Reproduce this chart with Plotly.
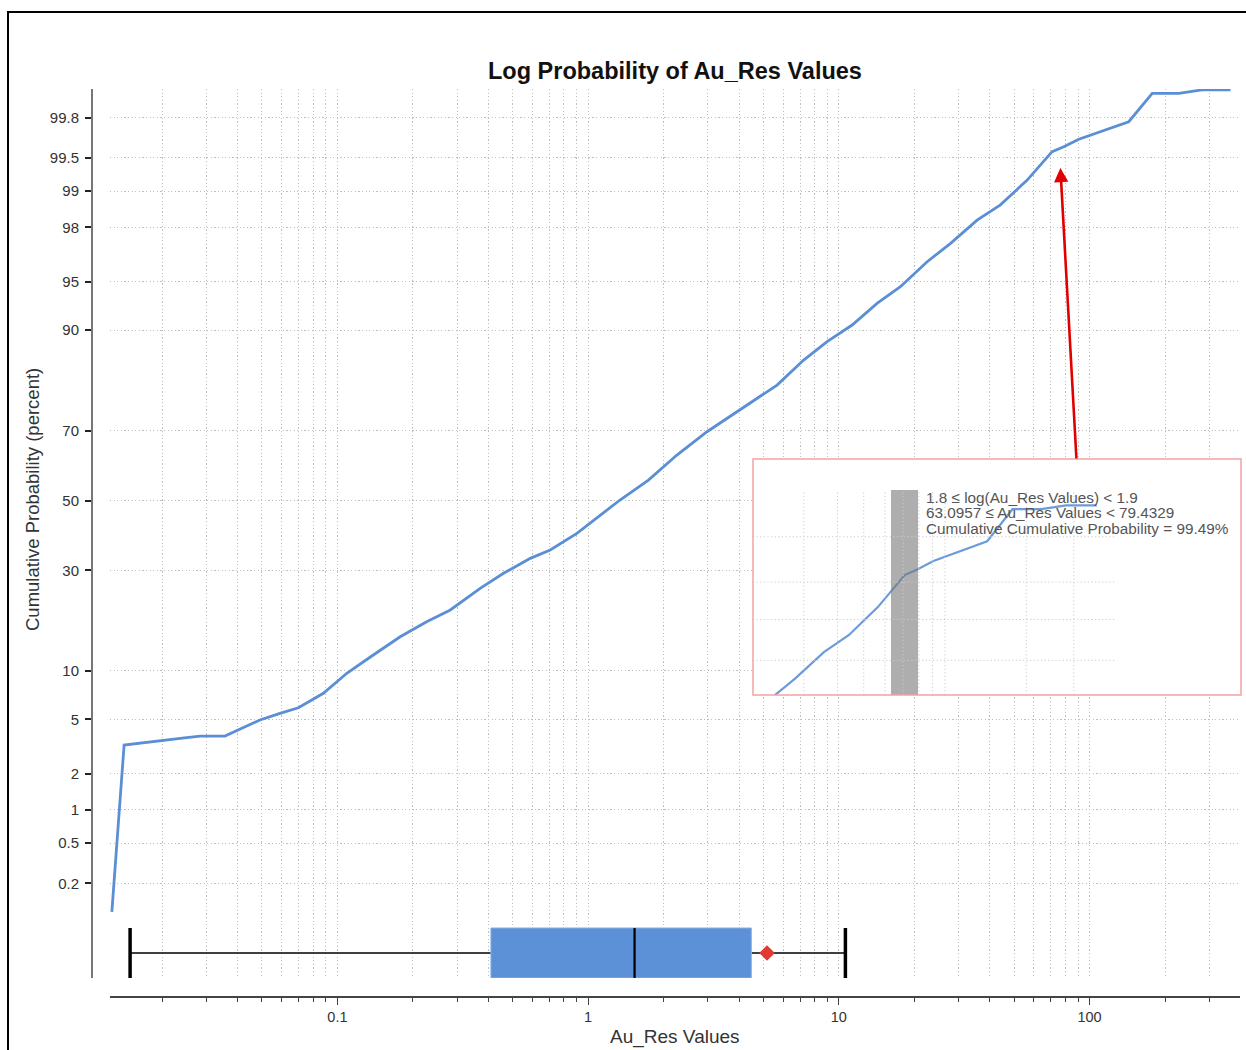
import math
from statistics import NormalDist
import plotly.graph_objects as go

W, H = 1246, 1050

# Cumulative distribution of Au_Res (value, cumulative percent)
AU_VALUES = [0.0126, 0.0141, 0.0236, 0.0283, 0.0356, 0.0491, 0.0590, 0.0699, 0.0879, 0.109,
             0.139, 0.178, 0.227, 0.282, 0.371, 0.460, 0.588, 0.706, 0.902, 1.34,
             1.74, 2.26, 2.98, 3.93, 5.67, 7.24, 8.98, 11.3, 14.2, 17.6,
             22.5, 27.9, 35.6, 44.1, 56.4, 70.9, 78.9, 90.6, 110.5, 143.3,
             177.8, 227.0, 281.0, 365.0]
CUM_PCT = [0.099, 3.30, 3.69, 3.83, 3.83, 4.95, 5.48, 5.96, 7.36, 9.70,
           12.27, 15.29, 18.11, 20.53, 25.46, 29.22, 33.18, 35.49, 40.26, 50.15,
           56.12, 63.38, 69.74, 74.79, 80.73, 85.45, 88.38, 90.65, 93.09, 94.60,
           96.37, 97.34, 98.25, 98.69, 99.20, 99.564, 99.609, 99.670, 99.722, 99.780,
           99.890, 99.890, 99.899, 99.899]

# Probability axis labels (percent)
PROB_TICKS = [0.2, 0.5, 1, 2, 5, 10, 30, 50, 70, 90, 95, 98, 99, 99.5, 99.8]
X_MAJOR = [0.1, 1, 10, 100]
X_MAJOR_TEXT = ["0.1", "1", "10", "100"]

# Box plot summary
BOX_LOWER = 0.0149
BOX_Q1 = 0.4095
BOX_MEDIAN = 1.532
BOX_Q3 = 4.476
BOX_MEAN = 5.17
BOX_UPPER = 10.62

# Highlighted bin in the detail panel
BIN_LO = 63.0957
BIN_HI = 79.4329
BIN_TEXT = [
    "1.8 \u2264 log(Au_Res Values) < 1.9",
    "63.0957 \u2264 Au_Res Values < 79.4329",
    "Cumulative Cumulative Probability = 99.49%",
]
INSET_GRID_VALUES = [30, 40, 50, 60, 70, 80, 90, 100, 200, 300]
INSET_GRID_PCT = [98, 99, 99.5, 99.8]

# Arrow from the detail panel to the curve
ARROW_TIP = (76.5, 99.38)
ARROW_TAIL = (88.7, 61.96)

ND = NormalDist()


def z(p):
    return ND.inv_cdf(p / 100.0)


def px(x):
    return x / W


def py(y):
    return 1 - y / H


LINE_BLUE = "#5b8fd5"
GRID = "#bfbfbf"
GRID_DASH = "1.2px,2.4px"
FONT = "Liberation Sans, Arial, sans-serif"

fig = go.Figure()

# ---- main probability curve
fig.add_trace(go.Scatter(
    x=AU_VALUES, y=[z(p) for p in CUM_PCT], mode="lines",
    line=dict(color=LINE_BLUE, width=2.8), xaxis="x", yaxis="y",
))

# ---- box plot along the bottom of the main panel
BOX_C, BOX_H = -3.402, 0.188
fig.add_trace(go.Scatter(
    x=[BOX_LOWER, BOX_Q1, None, BOX_Q3, BOX_UPPER],
    y=[BOX_C, BOX_C, None, BOX_C, BOX_C], mode="lines",
    line=dict(color="black", width=1.6), xaxis="x", yaxis="y",
))
fig.add_trace(go.Scatter(
    x=[BOX_LOWER, BOX_LOWER, None, BOX_UPPER, BOX_UPPER],
    y=[BOX_C - BOX_H, BOX_C + BOX_H, None, BOX_C - BOX_H, BOX_C + BOX_H], mode="lines",
    line=dict(color="black", width=3.5), xaxis="x", yaxis="y",
))
fig.add_trace(go.Scatter(
    x=[BOX_Q1, BOX_Q3, BOX_Q3, BOX_Q1, BOX_Q1],
    y=[BOX_C - BOX_H, BOX_C - BOX_H, BOX_C + BOX_H, BOX_C + BOX_H, BOX_C - BOX_H],
    mode="lines", fill="toself", fillcolor="#5d91d7",
    line=dict(color="#8ab1e6", width=1), xaxis="x", yaxis="y",
))
fig.add_trace(go.Scatter(
    x=[BOX_MEDIAN, BOX_MEDIAN], y=[BOX_C - BOX_H, BOX_C + BOX_H], mode="lines",
    line=dict(color="black", width=2.2), xaxis="x", yaxis="y",
))
fig.add_trace(go.Scatter(
    x=[BOX_MEAN], y=[BOX_C], mode="markers",
    marker=dict(symbol="diamond", size=12, color="#e03a32"), xaxis="x", yaxis="y",
))

# ---- detail panel (inset)
IZ_BOT, IZ_TOP, IZ_BAR_TOP = 1.8227, 3.3967, 3.1893
IX_LEFT, IX_GRID_END = 10 ** 1.2889, 426.0
fig.add_trace(go.Scatter(
    x=AU_VALUES, y=[z(p) for p in CUM_PCT], mode="lines",
    line=dict(color="#6d9bd8", width=2.2), xaxis="x2", yaxis="y2",
))
fig.add_trace(go.Scatter(
    x=[BIN_LO, BIN_HI, BIN_HI, BIN_LO, BIN_LO],
    y=[IZ_BOT, IZ_BOT, IZ_BAR_TOP, IZ_BAR_TOP, IZ_BOT],
    mode="lines", fill="toself", fillcolor="rgba(120,120,120,0.6)",
    line=dict(width=0), xaxis="x2", yaxis="y2",
))
vx, vy = [], []
for v in INSET_GRID_VALUES:
    vx += [v, v, None]
    vy += [IZ_BOT, IZ_BAR_TOP, None]
hx, hy = [], []
for p in INSET_GRID_PCT:
    hx += [IX_LEFT, IX_GRID_END, None]
    hy += [z(p), z(p), None]
fig.add_trace(go.Scatter(
    x=vx + hx, y=vy + hy, mode="lines",
    line=dict(color="#cccccc", width=1, dash=GRID_DASH), xaxis="x2", yaxis="y2",
))

x_minor = [d * k for d in (0.01, 0.1, 1, 10, 100) for k in range(2, 10)
           if 0.0125 <= d * k <= 390]

fig.update_layout(
    width=W, height=H,
    margin=dict(l=0, r=0, t=0, b=0),
    paper_bgcolor="white", plot_bgcolor="white",
    showlegend=False,
    font=dict(family=FONT, color="#333"),
    xaxis=dict(
        type="log", domain=[px(110), px(1240)], range=[-1.907, 2.600],
        anchor="free", position=py(997),
        showline=True, linecolor="#444", linewidth=2,
        ticks="outside", ticklen=7, tickwidth=1.2, tickcolor="#444",
        tickmode="array", tickvals=X_MAJOR, ticktext=X_MAJOR_TEXT,
        tickfont=dict(size=14.5, color="#333"),
        showgrid=True, gridcolor=GRID, griddash=GRID_DASH, gridwidth=1,
        minor=dict(tickmode="array", tickvals=x_minor, ticks="outside", ticklen=4,
                   tickcolor="#444", showgrid=True, gridcolor=GRID, griddash=GRID_DASH,
                   gridwidth=1),
        zeroline=False, automargin=False,
    ),
    yaxis=dict(
        domain=[py(978), py(89)], range=[-3.590, 3.094],
        anchor="free", position=px(92),
        showline=True, linecolor="#777", linewidth=2,
        ticks="outside", ticklen=6, tickwidth=1.5, tickcolor="#222",
        tickmode="array", tickvals=[z(p) for p in PROB_TICKS],
        ticktext=[f"{p:g}" for p in PROB_TICKS],
        tickfont=dict(size=15, color="#333"), ticklabelstandoff=3,
        showgrid=True, gridcolor=GRID, griddash=GRID_DASH, gridwidth=1,
        zeroline=False, automargin=False,
    ),
    xaxis2=dict(
        type="log", domain=[px(753), px(1241)], range=[1.2889, 3.0963],
        anchor="y2", showgrid=False, showline=False, showticklabels=False,
        ticks="", zeroline=False,
    ),
    yaxis2=dict(
        domain=[py(695), py(459)], range=[IZ_BOT, IZ_TOP],
        anchor="x2", showgrid=False, showline=False, showticklabels=False,
        ticks="", zeroline=False,
    ),
)

shapes = [
    # outer frame
    dict(type="rect", xref="paper", yref="paper", x0=px(8), x1=1.02, y0=-0.02, y1=py(12),
         line=dict(color="black", width=2), fillcolor="rgba(0,0,0,0)", layer="above"),
    # detail panel border
    dict(type="rect", xref="paper", yref="paper", x0=px(753), x1=px(1241), y0=py(695), y1=py(459),
         line=dict(color="#f2a3a3", width=1.5), fillcolor="rgba(0,0,0,0)", layer="above"),
]
fig.update_layout(shapes=shapes)

annotations = [
    dict(text="<b>Log Probability of Au_Res Values</b>", x=px(675), y=py(71),
         xref="paper", yref="paper", showarrow=False, xanchor="center", yanchor="middle",
         font=dict(size=23.5, color="#111", family=FONT)),
    dict(text="Cumulative Probability (percent)", x=px(32), y=py(500),
         xref="paper", yref="paper", showarrow=False, textangle=-90,
         xanchor="center", yanchor="middle", font=dict(size=18.5, color="#333", family=FONT)),
    dict(text="Au_Res Values", x=px(675), y=py(1037),
         xref="paper", yref="paper", showarrow=False, xanchor="center", yanchor="middle",
         font=dict(size=19, color="#333", family=FONT)),
    dict(x=math.log10(ARROW_TIP[0]), y=z(ARROW_TIP[1]), xref="x", yref="y",
         ax=math.log10(ARROW_TAIL[0]), ay=z(ARROW_TAIL[1]), axref="x", ayref="y",
         showarrow=True, arrowhead=2, arrowsize=1.1, arrowwidth=2.6,
         arrowcolor="#e00000", standoff=0, text=""),
]
for i, t in enumerate(BIN_TEXT):
    annotations.append(dict(
        text=t, x=px(924), y=py(497 + 15.5 * i), xref="paper", yref="paper",
        showarrow=False, xanchor="left", yanchor="middle",
        font=dict(size=15.3, color="#555", family=FONT)))
fig.update_layout(annotations=annotations)

fig.write_html("out.html")
